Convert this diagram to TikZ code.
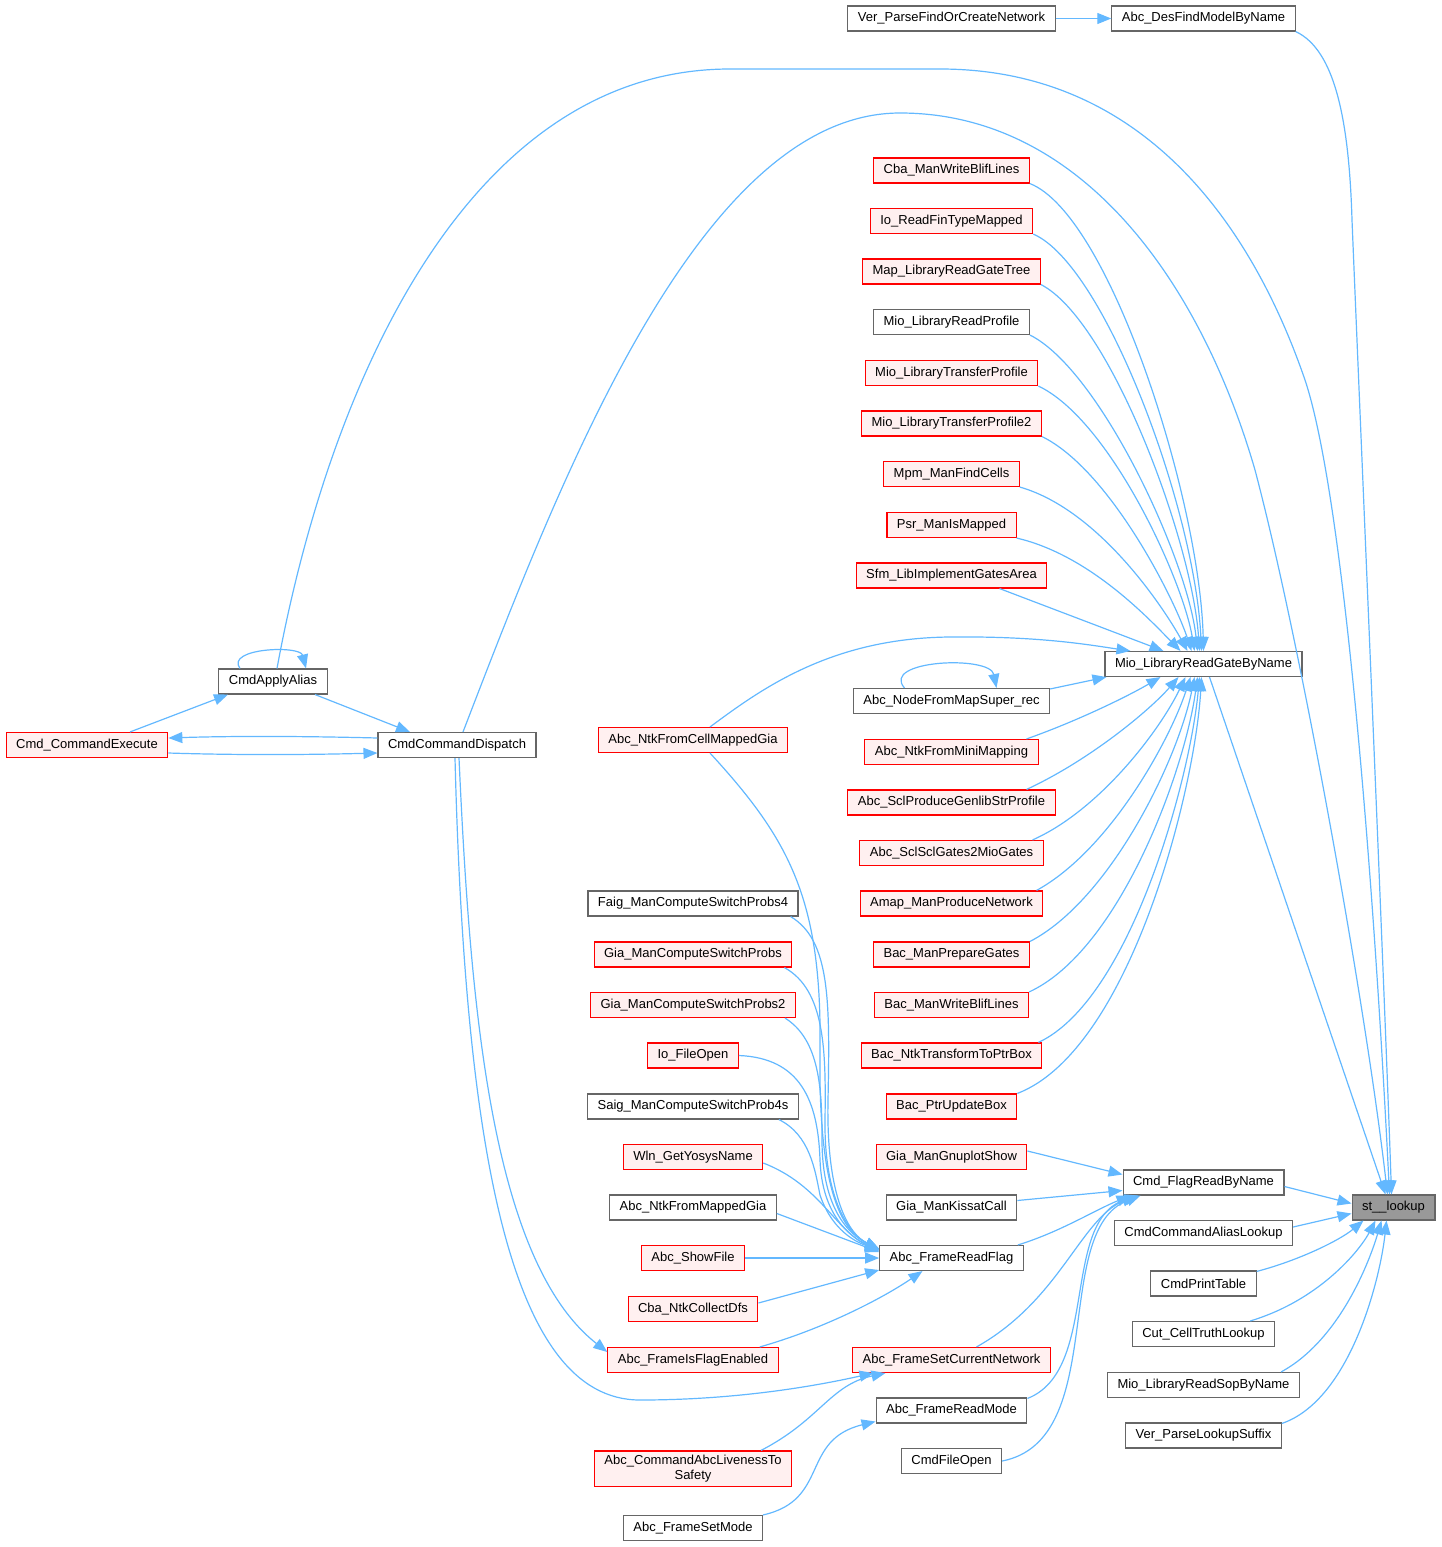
\documentclass[tikz,border=0pt]{standalone}
\usepackage{fontspec}
\setmainfont{Liberation Sans}
\usetikzlibrary{arrows.meta,calc}
\definecolor{edgec}{HTML}{63B8FF}
\definecolor{redb}{HTML}{FF0000}
\definecolor{redf}{HTML}{FFF0F0}
\definecolor{grayb}{HTML}{666666}
\definecolor{rootf}{HTML}{999999}
\begin{document}
\begin{tikzpicture}[x=1pt,y=-1pt,
  fn/.style={draw=grayb, fill=white, line width=1.1pt, minimum height=25pt, inner xsep=10pt, inner ysep=3pt, font=\fontsize{13}{15}\selectfont},
  fr/.style={fn, draw=redb, fill=redf},
  froot/.style={fn, fill=rootf},
  edge/.style={draw=edgec, line width=1.2pt, -{Triangle[length=14pt,width=11pt]}}]
\path[use as bounding box] (0,0) rectangle (1441,1547);

% right columns
\node[froot] (stl) at (1393.5,1207.5) {st\_\_lookup};
\node[fn] (desf) at (1203.5,18.5) {Abc\_DesFindModelByName};
\node[fn] (verf) at (951.5,18.5) {Ver\_ParseFindOrCreateNetwork};
\node[fn] (mio) at (1203.5,664) {Mio\_LibraryReadGateByName};
\node[fn] (cfr) at (1203.5,1182.5) {Cmd\_FlagReadByName};
\node[fn] (cal) at (1203.5,1233) {CmdCommandAliasLookup};
\node[fn] (cpt) at (1203.5,1283.5) {CmdPrintTable};
\node[fn] (cut) at (1203.5,1334) {Cut\_CellTruthLookup};
\node[fn] (msop) at (1203.5,1385) {Mio\_LibraryReadSopByName};
\node[fn] (vpls) at (1203.5,1435.5) {Ver\_ParseLookupSuffix};

% column 952
\node[fr] (cbaw) at (951.5,170.5) {Cba\_ManWriteBlifLines};
\node[fr] (iorf) at (951.5,221) {Io\_ReadFinTypeMapped};
\node[fr] (maplr) at (951.5,271.5) {Map\_LibraryReadGateTree};
\node[fn] (miorp) at (951.5,322) {Mio\_LibraryReadProfile};
\node[fr] (miotp) at (951.5,373) {Mio\_LibraryTransferProfile};
\node[fr] (miotp2) at (951.5,423.5) {Mio\_LibraryTransferProfile2};
\node[fr] (mpm) at (951.5,474) {Mpm\_ManFindCells};
\node[fr] (psr) at (951.5,525) {Psr\_ManIsMapped};
\node[fr] (sfm) at (951.5,575.5) {Sfm\_LibImplementGatesArea};
\node[fn] (nfms) at (951.5,701) {Abc\_NodeFromMapSuper\_rec};
\node[fr] (nfmm) at (951.5,752) {Abc\_NtkFromMiniMapping};
\node[fr] (sclp) at (951.5,802.5) {Abc\_SclProduceGenlibStrProfile};
\node[fr] (scls) at (951.5,853) {Abc\_SclSclGates2MioGates};
\node[fr] (amap) at (951.5,903.5) {Amap\_ManProduceNetwork};
\node[fr] (bacpg) at (951.5,954.5) {Bac\_ManPrepareGates};
\node[fr] (bacwb) at (951.5,1005) {Bac\_ManWriteBlifLines};
\node[fr] (bacnt) at (951.5,1055.5) {Bac\_NtkTransformToPtrBox};
\node[fr] (bacpu) at (951.5,1106.5) {Bac\_PtrUpdateBox};
\node[fr] (gnup) at (951.5,1157) {Gia\_ManGnuplotShow};
\node[fn] (kiss) at (951.5,1207.5) {Gia\_ManKissatCall};
\node[fn] (afrf) at (951.5,1258) {Abc\_FrameReadFlag};
\node[fr] (afsc) at (951.5,1360) {Abc\_FrameSetCurrentNetwork};
\node[fn] (afrm) at (951.5,1410.5) {Abc\_FrameReadMode};
\node[fn] (cfo) at (951.5,1461) {CmdFileOpen};

% column 693
\node[fr] (ncm) at (693,740) {Abc\_NtkFromCellMappedGia};
\node[fn] (faig) at (693,903.5) {Faig\_ManComputeSwitchProbs4};
\node[fr] (gsp) at (693,954.5) {Gia\_ManComputeSwitchProbs};
\node[fr] (gsp2) at (693,1005) {Gia\_ManComputeSwitchProbs2};
\node[fr] (iofo) at (693,1055.5) {Io\_FileOpen};
\node[fn] (saig) at (693,1106.5) {Saig\_ManComputeSwitchProb4s};
\node[fr] (wln) at (693,1157) {Wln\_GetYosysName};
\node[fn] (nfmg) at (693,1207.5) {Abc\_NtkFromMappedGia};
\node[fr] (show) at (693,1258) {Abc\_ShowFile};
\node[fr] (cbad) at (693,1309) {Cba\_NtkCollectDfs};
\node[fr] (afie) at (693,1360) {Abc\_FrameIsFlagEnabled};
\node[fr, align=center, inner ysep=4pt] (live) at (693,1468.5) {Abc\_CommandAbcLivenessTo\\Safety};
\node[fn] (afsm) at (693,1528) {Abc\_FrameSetMode};

% left
\node[fn] (apa) at (273,681.5) {CmdApplyAlias};
\node[fr] (cexe) at (87,745) {Cmd\_CommandExecute};
\node[fn] (disp) at (457,745) {CmdCommandDispatch};

% ---- edges into st__lookup
\draw[edge] ([xshift=6pt]mio.south) -- ([xshift=-8pt]stl.north);
\draw[edge] (desf.south east) .. controls (1335,50) and (1349,120) .. (1352,220) .. controls (1356,320) and (1385,1000) .. ([xshift=-2pt]stl.north);
\draw[edge] ([xshift=4pt]apa.north) .. controls (330,380) and (470,69) .. (730,69) -- (940,69) .. controls (1140,69) and (1250,220) .. (1305,380) .. controls (1345,500) and (1375,900) .. ([xshift=-4pt]stl.north);
\draw[edge] ([xshift=6pt]disp.north) .. controls (560,480) and (700,113) .. (900,113) .. controls (1080,113) and (1200,280) .. (1255,470) .. controls (1300,640) and (1365,1000) .. ([xshift=-6pt]stl.north);
\draw[edge] ([yshift=-4pt]cfr.east) -- ([yshift=4pt]stl.west);
\draw[edge] ([yshift=6pt]cal.east) -- ([yshift=-6pt]stl.west);
\draw[edge] ([yshift=-1pt]cpt.north east) .. controls (1300,1260) and (1340,1240) .. ([xshift=-30pt]stl.south);
\draw[edge] ([xshift=-25pt]cut.north east) .. controls (1320,1300) and (1360,1250) .. ([xshift=-18pt]stl.south);
\draw[edge] ([xshift=-19pt]msop.north east) .. controls (1340,1340) and (1370,1260) .. ([xshift=-12pt]stl.south);
\draw[edge] ([yshift=-1pt]vpls.north east) .. controls (1350,1400) and (1380,1280) .. ([xshift=-7pt]stl.south);

% ---- Abc_DesFindModelByName
\draw[edge] (verf) -- (desf);

% ---- into Mio_LibraryReadGateByName, from above
\draw[edge] (cbaw.south east) .. controls (1110,215) and (1200,500) .. ([xshift=0pt]mio.north);
\draw[edge] (iorf.south east) .. controls (1105,265) and (1195,510) .. ([xshift=-2pt]mio.north);
\draw[edge] (maplr.south east) .. controls (1110,320) and (1192,540) .. ([xshift=-4pt]mio.north);
\draw[edge] (miorp.south east) .. controls (1100,370) and (1188,560) .. ([xshift=-6pt]mio.north);
\draw[edge] (miotp.south east) .. controls (1110,420) and (1183,580) .. ([xshift=-9pt]mio.north);
\draw[edge] (miotp2.south east) .. controls (1110,470) and (1175,600) .. ([xshift=-12pt]mio.north);
\draw[edge] (mpm.south east) .. controls (1100,510) and (1165,610) .. ([xshift=-16pt]mio.north);
\draw[edge] (psr.south east) .. controls (1090,555) and (1150,620) .. ([xshift=-23pt]mio.north);
\draw[edge] ([xshift=48pt]sfm.south) -- ([xshift=-40pt]mio.north);
\draw[edge] ([xshift=17pt]ncm.north) .. controls (760,690) and (830,638) .. (950,637) .. controls (1040,636) and (1090,645) .. ([xshift=-73pt]mio.north);
% from below
\draw[edge] ([yshift=-1pt]nfms.north east) -- ([xshift=2pt]mio.south west);
\draw[edge] ([xshift=-47pt]nfms.north) .. controls (880,660) and (990,655) .. ([xshift=45pt]nfms.north);
\draw[edge] ([xshift=75pt]nfmm.north) .. controls (1080,720) and (1130,695) .. ([xshift=-43pt]mio.south);
\draw[edge] ([xshift=75pt]sclp.north) .. controls (1090,760) and (1150,710) .. ([xshift=-25pt]mio.south);
\draw[edge] ([xshift=81pt]scls.north) .. controls (1100,810) and (1160,730) .. ([xshift=-18pt]mio.south);
\draw[edge] ([xshift=85pt]amap.north) .. controls (1110,850) and (1170,740) .. ([xshift=-13pt]mio.south);
\draw[edge] (bacpg.north east) .. controls (1110,900) and (1178,760) .. ([xshift=-9pt]mio.south);
\draw[edge] (bacwb.north east) .. controls (1120,950) and (1185,770) .. ([xshift=-6pt]mio.south);
\draw[edge] ([xshift=-4pt]bacnt.north east) .. controls (1130,1000) and (1190,780) .. ([xshift=-4pt]mio.south);
\draw[edge] (bacpu.north east) .. controls (1130,1050) and (1195,790) .. ([xshift=-2pt]mio.south);

% ---- into Cmd_FlagReadByName
\draw[edge] ([yshift=6pt]gnup.east) -- ([yshift=8pt]cfr.west);
\draw[edge] ([yshift=7pt]kiss.east) -- ([yshift=-8pt]cfr.west);
\draw[edge] ([xshift=-6pt]afrf.north east) .. controls (1060,1232) and (1095,1210) .. ([xshift=-73pt]cfr.south);
\draw[edge] ([xshift=25pt]afsc.north) .. controls (1060,1300) and (1080,1220) .. ([xshift=-68pt]cfr.south);
\draw[edge] ([yshift=-1pt]afrm.north east) .. controls (1100,1370) and (1060,1220) .. ([xshift=-65pt]cfr.south);
\draw[edge] (cfo.east) .. controls (1110,1440) and (1050,1230) .. ([xshift=-63pt]cfr.south);

% ---- into Abc_FrameReadFlag
\draw[edge] ([xshift=17pt]ncm.south) .. controls (790,840) and (822,900) .. (820,1050) .. controls (818,1200) and (845,1232) .. ([yshift=9pt]afrf.west);
\draw[edge] ([xshift=-8pt]faig.south east) .. controls (830,940) and (830,1000) .. (828,1100) .. controls (826,1200) and (850,1235) .. ([yshift=9pt]afrf.west);
\draw[edge] ([xshift=-8pt]gsp.south east) .. controls (825,990) and (826,1050) .. (825,1120) .. controls (824,1200) and (850,1235) .. ([yshift=9pt]afrf.west);
\draw[edge] ([xshift=-11pt]gsp2.south east) .. controls (820,1040) and (822,1090) .. (822,1140) .. controls (822,1210) and (850,1235) .. ([yshift=9pt]afrf.west);
\draw[edge] (iofo.east) .. controls (800,1058) and (818,1100) .. (820,1160) .. controls (822,1215) and (850,1237) .. ([yshift=8pt]afrf.west);
\draw[edge] ([xshift=-20pt]saig.south east) .. controls (810,1135) and (815,1170) .. (820,1195) .. controls (830,1225) and (850,1240) .. ([yshift=8pt]afrf.west);
\draw[edge] ([yshift=-6pt]wln.east) .. controls (820,1185) and (835,1230) .. ([yshift=7pt]afrf.west);
\draw[edge] ([yshift=-6pt]nfmg.east) -- ([yshift=6pt]afrf.west);
\draw[edge] (show.east) -- (afrf.west);
\draw[edge] ([yshift=6pt]cbad.east) -- ([yshift=-12pt]afrf.west);
\draw[edge] ([xshift=-19pt]afie.north east) .. controls (820,1330) and (880,1300) .. ([xshift=-29pt]afrf.south);

% ---- Abc_FrameSetCurrentNetwork / ReadMode
\draw[edge] ([xshift=68pt]live.north) .. controls (820,1420) and (830,1385) .. ([xshift=-66pt]afsc.south);
\draw[edge] ([xshift=70pt]afsm.north) .. controls (830,1500) and (800,1440) .. ([yshift=-11pt]afrm.west);

% ---- left cluster
\draw[edge] ([xshift=-33pt]apa.north) .. controls (225,648) and (300,645) .. ([xshift=33pt]apa.north);
\draw[edge] ([xshift=43pt]cexe.north) -- ([xshift=-45pt]apa.south);
\draw[edge] ([xshift=42pt]apa.south) -- ([xshift=-47pt]disp.north);
\draw[edge] ([yshift=7pt]disp.west) .. controls (300,736) and (230,736) .. ([yshift=7pt]cexe.east);
\draw[edge] ([yshift=-8pt]cexe.east) .. controls (230,755) and (300,755) .. ([yshift=-8pt]disp.west);
\draw[edge] ([xshift=2pt]disp.south) .. controls (470,1000) and (490,1260) .. ([yshift=8pt]afie.west);
\draw[edge] ([xshift=-2pt]disp.south) .. controls (465,1150) and (510,1400) .. (640,1400) .. controls (740,1400) and (820,1385) .. ([xshift=-78pt]afsc.south);
\end{tikzpicture}
\end{document}
